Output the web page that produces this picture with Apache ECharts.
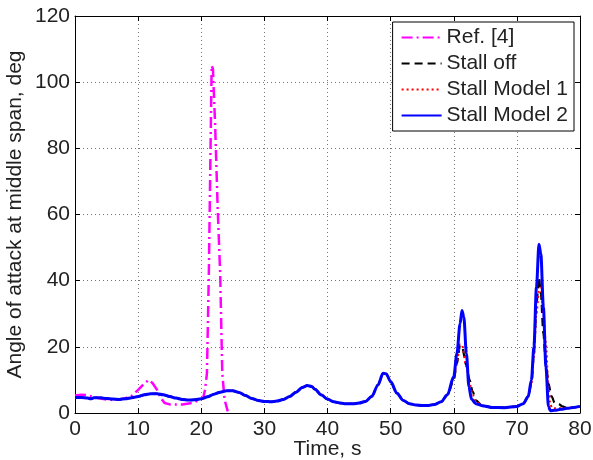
<!DOCTYPE html>
<html>
<head>
<meta charset="utf-8">
<script src="https://cdn.jsdelivr.net/npm/echarts@6/dist/echarts.min.js"></script>
<style>
html,body{margin:0;padding:0;background:#fff;}
#chart{width:593px;height:460px;}
</style>
</head>
<body>
<div id="chart"></div>
<script>
// ---- Data (time in s, angle in deg) ----
const seriesNames = ['Ref. [4]', 'Stall off', 'Stall Model 1', 'Stall Model 2'];
const xTicks = [0, 10, 20, 30, 40, 50, 60, 70, 80];
const yTicks = [0, 20, 40, 60, 80, 100, 120];

const refTime  = [0, 1, 2, 3, 4, 5, 6, 7, 8, 9, 10, 11, 11.7, 12.3, 13, 13.6, 14.2, 15, 17, 18.5, 19.5, 20.3, 20.6, 20.9, 21.2, 21.65, 21.85, 22.2, 22.6, 23, 23.33, 23.7, 24.2];
const refAngle = [5.3, 5.5, 5.4, 4.8, 4.4, 4.1, 3.9, 4.1, 4.5, 5.2, 7, 9, 10, 9, 7, 4.5, 3, 2.6, 2.6, 3, 3.8, 4.5, 7, 12, 42, 105, 104, 87, 62, 42, 12, 4, 0.5];

const m2Time  = [0, 1, 2, 2.5, 3, 4, 5, 6, 7, 8, 9, 10, 11, 12, 13, 14, 15, 16, 17, 18, 19, 20, 21, 22, 23, 24, 25, 26, 27, 28, 29, 30, 31, 32, 33, 34, 35, 36, 36.8, 37.5, 38, 39, 40, 41, 42, 43, 44, 45, 46, 47, 48, 48.8, 49.3, 50, 51, 52, 53, 54, 55, 56, 57, 58, 59, 60, 60.5, 61, 61.3, 61.6, 62, 62.4, 62.8, 63.5, 64.5, 66, 68, 70, 71, 71.8, 72.3, 72.7, 73.1, 73.5, 73.8, 74.2, 74.6, 75, 75.3, 76, 77, 78, 79, 80];
const m2Angle = [4.7, 4.7, 4.5, 4.3, 4.6, 4.6, 4.4, 4.2, 4.1, 4.3, 4.6, 5.0, 5.5, 5.8, 5.8, 5.5, 5.0, 4.5, 4.1, 3.9, 4.0, 4.3, 4.9, 5.7, 6.3, 6.7, 6.7, 6.2, 5.3, 4.4, 3.8, 3.5, 3.4, 3.6, 4.1, 5.0, 6.3, 7.7, 8.3, 8.0, 7.2, 5.5, 4.2, 3.4, 3.0, 2.8, 2.8, 3.0, 3.5, 5.0, 8.5, 12.0, 11.8, 9.5, 6.0, 3.8, 2.8, 2.4, 2.3, 2.3, 2.6, 3.4, 5.5, 11, 18, 27, 31, 29, 18, 8, 4.2, 2.8, 2.2, 1.7, 1.6, 2.0, 2.8, 5, 10, 20, 38, 51, 48, 32, 14, 2, 0.7, 0.8, 1.1, 1.4, 1.7, 2.0];

const offTime  = [0, 1, 2, 2.5, 3, 4, 5, 6, 7, 8, 9, 10, 11, 12, 13, 14, 15, 16, 17, 18, 19, 20, 21, 22, 23, 24, 25, 26, 27, 28, 29, 30, 31, 32, 33, 34, 35, 36, 36.8, 37.5, 38, 39, 40, 41, 42, 43, 44, 45, 46, 47, 48, 48.8, 49.3, 50, 51, 52, 53, 54, 55, 56, 57, 58, 59, 60, 60.5, 61, 61.3, 62, 62.5, 63, 63.5, 64.5, 66, 68, 70, 71, 71.8, 72.3, 72.7, 73.1, 73.5, 73.8, 74.2, 74.6, 75, 75.5, 76, 76.7, 77.2, 78, 79, 80];
const offAngle = [4.7, 4.7, 4.5, 4.3, 4.6, 4.6, 4.4, 4.2, 4.1, 4.3, 4.6, 5.0, 5.5, 5.8, 5.8, 5.5, 5.0, 4.5, 4.1, 3.9, 4.0, 4.3, 4.9, 5.7, 6.3, 6.7, 6.7, 6.2, 5.3, 4.4, 3.8, 3.5, 3.4, 3.6, 4.1, 5.0, 6.3, 7.7, 8.3, 8.0, 7.2, 5.5, 4.2, 3.4, 3.0, 2.8, 2.8, 3.0, 3.5, 5.0, 8.5, 12.0, 11.8, 9.5, 6.0, 3.8, 2.8, 2.4, 2.3, 2.3, 2.6, 3.4, 5.5, 10, 15, 20.5, 20, 14.5, 10, 6.5, 3.8, 2.3, 1.7, 1.6, 2.0, 2.8, 5, 9, 18, 33, 41, 36, 24, 15, 9, 5, 3, 2.6, 2.0, 1.5, 1.7, 2.0];

const m1Time  = [0, 1, 2, 2.5, 3, 4, 5, 6, 7, 8, 9, 10, 11, 12, 13, 14, 15, 16, 17, 18, 19, 20, 21, 22, 23, 24, 25, 26, 27, 28, 29, 30, 31, 32, 33, 34, 35, 36, 36.8, 37.5, 38, 39, 40, 41, 42, 43, 44, 45, 46, 47, 48, 48.8, 49.3, 50, 51, 52, 53, 54, 55, 56, 57, 58, 59, 60, 60.5, 61, 61.3, 62, 62.5, 63, 63.5, 64.5, 66, 68, 70, 71, 71.8, 72.3, 72.7, 73.1, 73.5, 73.8, 74.2, 74.6, 75, 75.3, 75.6, 76, 77, 78, 79, 80];
const m1Angle = [4.7, 4.7, 4.5, 4.3, 4.6, 4.6, 4.4, 4.2, 4.1, 4.3, 4.6, 5.0, 5.5, 5.8, 5.8, 5.5, 5.0, 4.5, 4.1, 3.9, 4.0, 4.3, 4.9, 5.7, 6.3, 6.7, 6.7, 6.2, 5.3, 4.4, 3.8, 3.5, 3.4, 3.6, 4.1, 5.0, 6.3, 7.7, 8.3, 8.0, 7.2, 5.5, 4.2, 3.4, 3.0, 2.8, 2.8, 3.0, 3.5, 5.0, 8.5, 12.0, 11.8, 9.5, 6.0, 3.8, 2.8, 2.4, 2.3, 2.3, 2.6, 3.4, 5.5, 10.5, 15.5, 20.8, 20.5, 14, 9, 5.5, 3.5, 2.3, 1.7, 1.6, 2.0, 2.8, 5, 9, 17, 30, 37, 38, 30, 21, 8, 2.5, 1.5, 1.4, 1.4, 1.5, 1.7, 2.0];

function zip(xs, ys) { return xs.map((x, i) => [x, ys[i]]); }

const FONT = "'Liberation Sans', Arial, Helvetica, sans-serif";
const TXT = '#222';
const FS = 21;

const chart = echarts.init(document.getElementById('chart'), null, { renderer: 'canvas' });

const baseX = {
  type: 'value', min: xTicks[0], max: xTicks[xTicks.length - 1], interval: 10,
  axisLine: { show: true, onZero: false, lineStyle: { color: '#000', width: 1 } },
  axisTick: { show: true, inside: true, length: 5, lineStyle: { color: '#000' } },
  splitLine: { show: false }
};
const baseY = {
  type: 'value', min: yTicks[0], max: yTicks[yTicks.length - 1], interval: 20,
  axisLine: { show: true, onZero: false, lineStyle: { color: '#000', width: 1 } },
  axisTick: { show: true, inside: true, length: 5, lineStyle: { color: '#000' } },
  splitLine: { show: false }
};

chart.setOption({
  animation: false,
  backgroundColor: '#fff',
  grid: { left: 75, right: 13, top: 16, bottom: 47, containLabel: false, outerBoundsMode: 'none' },
  legend: {
    data: seriesNames,
    orient: 'vertical',
    right: 19, top: 22,
    padding: [5, 6, 5, 8],
    itemWidth: 40, itemHeight: 14, itemGap: 5,
    backgroundColor: '#fff',
    borderColor: '#000', borderWidth: 1, borderRadius: 0,
    itemStyle: { opacity: 0, borderWidth: 0 },
    textStyle: { fontFamily: FONT, fontSize: FS, color: TXT, lineHeight: 21 }
  },
  xAxis: [
    Object.assign({}, baseX, {
      position: 'bottom',
      name: 'Time, s', nameLocation: 'middle', nameGap: 26, nameMoveOverlap: false,
      nameTextStyle: { fontFamily: FONT, fontSize: FS, color: TXT },
      axisLabel: { show: true, margin: 6, fontFamily: FONT, fontSize: FS, color: TXT },
      splitLine: { show: true, lineStyle: { color: '#777', width: 1, type: [1, 3] } }
    }),
    Object.assign({}, baseX, { position: 'top', axisLabel: { show: false } })
  ],
  yAxis: [
    Object.assign({}, baseY, {
      position: 'left',
      name: 'Angle of attack at middle span, deg', nameLocation: 'middle', nameGap: 49, nameMoveOverlap: false,
      nameTextStyle: { fontFamily: FONT, fontSize: FS, color: TXT },
      axisLabel: { show: true, margin: 5, fontFamily: FONT, fontSize: FS, color: TXT },
      splitLine: { show: true, lineStyle: { color: '#777', width: 1, type: [1, 3] } }
    }),
    Object.assign({}, baseY, { position: 'right', axisLabel: { show: false } })
  ],
  series: [
    {
      name: seriesNames[0], type: 'line', data: zip(refTime, refAngle),
      symbol: 'none', smooth: false,
      lineStyle: { color: '#ff00ff', width: 2.5, type: [11, 4, 2, 4] },
      itemStyle: { color: '#ff00ff' }
    },
    {
      name: seriesNames[1], type: 'line', data: zip(offTime, offAngle),
      symbol: 'none', smooth: 0.3, smoothMonotone: 'x',
      lineStyle: { color: '#000', width: 2.2, type: [8, 5] },
      itemStyle: { color: '#000' }
    },
    {
      name: seriesNames[2], type: 'line', data: zip(m1Time, m1Angle),
      symbol: 'none', smooth: 0.3, smoothMonotone: 'x',
      lineStyle: { color: '#ff0000', width: 2, type: [2, 3] },
      itemStyle: { color: '#ff0000' }
    },
    {
      name: seriesNames[3], type: 'line', data: zip(m2Time, m2Angle),
      symbol: 'none', smooth: 0.3, smoothMonotone: 'x',
      lineStyle: { color: '#0000ff', width: 3 },
      itemStyle: { color: '#0000ff' }
    }
  ]
});
</script>
</body>
</html>
